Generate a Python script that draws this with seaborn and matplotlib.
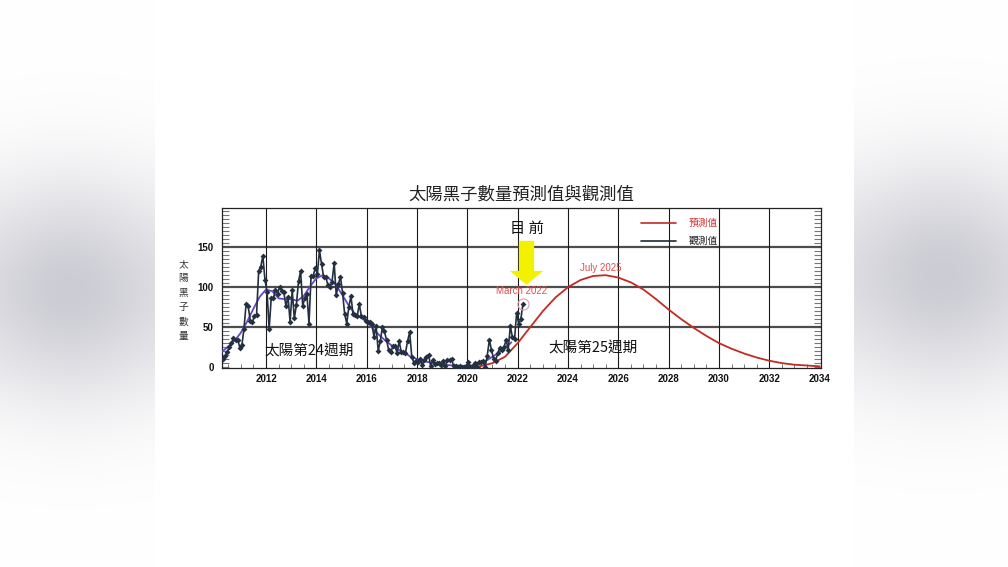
import matplotlib.pyplot as plt
import numpy as np
import seaborn as sns
from matplotlib.lines import Line2D
from matplotlib.ticker import MultipleLocator

# monthly observed sunspot number, Apr 2010 .. Mar 2022
obs_ssn = [10.4, 13.9, 18.8, 25.2, 29.6, 36.4, 33.6, 34.4, 24.5,
           27.3, 48.3, 78.6, 76.1, 58.2, 56.1, 64.5, 65.8, 120.1, 125.7, 139.1, 109.3,
           94.4, 47.6, 86.6, 85.9, 96.5, 92.0, 100.1, 94.8, 93.7, 76.5, 87.6, 56.8,
           96.1, 60.9, 78.3, 107.3, 120.2, 76.7, 86.2, 91.8, 54.5, 114.4, 113.9, 124.2,
           117.0, 146.1, 128.7, 112.5, 112.5, 102.9, 100.2, 106.9, 130.0, 90.0, 103.6, 112.9,
           93.0, 66.7, 54.5, 75.3, 88.8, 66.5, 65.8, 64.4, 78.6, 63.6, 62.2, 58.0,
           57.0, 56.4, 54.1, 37.9, 51.5, 20.5, 32.4, 50.2, 44.6, 33.4, 21.4, 18.5,
           26.1, 26.4, 17.7, 32.3, 18.9, 19.2, 17.8, 32.6, 43.7, 13.2, 5.7, 8.2,
           6.8, 10.7, 2.5, 8.9, 13.1, 15.6, 1.6, 8.7, 3.3, 4.9, 4.9, 3.1,
           7.7, 0.8, 9.4, 9.1, 9.9, 1.2, 0.9, 0.5, 1.1, 0.4, 0.5, 1.5,
           6.2, 0.2, 1.5, 5.2, 0.2, 5.8, 6.1, 7.5, 0.6, 14.4, 34.0, 21.8,
           10.4, 8.2, 17.2, 24.5, 21.2, 25.0, 34.0, 22.0, 51.3, 37.4, 34.8, 67.5,
           54.0, 59.7, 78.5]
obs_years = 2010 + (3 + np.arange(len(obs_ssn)) + 0.5) / 12

# smoothed observed curve (purple)
smooth_years = [2010.25, 2010.5, 2010.75, 2011.0, 2011.25, 2011.5, 2011.75, 2012.0,
                2012.25, 2012.5, 2012.75, 2013.0, 2013.25, 2013.5, 2013.75, 2014.0,
                2014.25, 2014.5, 2014.75, 2015.0, 2015.25, 2015.5, 2015.75, 2016.0,
                2016.25, 2016.5, 2016.75, 2017.0, 2017.25, 2017.5, 2017.75, 2018.0,
                2018.25, 2018.5, 2018.75, 2019.0, 2019.25, 2019.5, 2019.75, 2020.0,
                2020.25, 2020.5, 2020.75, 2021.0, 2021.25, 2021.5, 2021.75]
smooth_ssn = [19, 26, 33, 43, 57, 73, 88, 97,
              95, 86, 85, 85, 83, 89, 101, 111,
              115, 111, 104, 92, 79, 68, 62, 57,
              48, 40, 33, 27, 22, 18, 13, 10,
              7.5, 6, 4.5, 3.5, 2.5, 2, 1.5, 1.5,
              2.5, 5, 8, 13, 18, 24, 31]

# predicted cycle 25 (red)
pred_years = [2020.0, 2020.5, 2021.0, 2021.5, 2022.0, 2022.5, 2023.0, 2023.5, 2024.0,
              2024.5, 2025.0, 2025.5, 2026.0, 2026.5, 2027.0, 2027.5, 2028.0, 2028.5,
              2029.0, 2029.5, 2030.0, 2030.5, 2031.0, 2031.5, 2032.0, 2032.5, 2033.0,
              2033.5, 2034.0]
pred_ssn = [0, 1, 5, 13, 30, 50, 70, 87, 100,
            109, 114, 115, 112, 106, 97, 85, 72, 60,
            49, 39, 30, 23, 17, 12, 8, 5, 3,
            2, 1]

year_ticks = list(range(2012, 2035, 2))
ssn_ticks = [0, 50, 100, 150]

sns.set_theme(style="white")
plt.rcParams['font.family'] = ['Noto Sans CJK TC', 'DejaVu Sans']

fig = plt.figure(figsize=(10.08, 5.67), dpi=100)

# blurred grey side bands around the white panel
yy, xx = np.mgrid[0:567, 0:1008]
dark = np.zeros((567, 1008))
left = xx < 155
right = xx > 853
dark[left] = (0.20 * np.exp(-((yy[left] - 290) / 110.0) ** 2)
              * (0.55 + 0.45 * np.exp(-((xx[left] - 70) / 80.0) ** 2)))
dark[right] = (0.20 * np.exp(-((yy[right] - 275) / 110.0) ** 2)
               * (0.55 + 0.45 * np.exp(-((xx[right] - 940) / 80.0) ** 2)))
bg_img = np.dstack([1 - dark, 1 - dark, 1 - 0.85 * dark])
bg = fig.add_axes([0, 0, 1, 1], zorder=-1)
bg.imshow(bg_img, aspect='auto')
bg.axis('off')

ax = fig.add_axes([0.2202, 0.3504, 0.5942, 0.2827])

sns.lineplot(x=pred_years, y=pred_ssn, ax=ax, color='#c42a22', lw=1.3, zorder=3)
sns.lineplot(x=smooth_years, y=smooth_ssn, ax=ax, color='#6844cc', lw=1.3, zorder=4)
sns.lineplot(x=obs_years, y=obs_ssn, ax=ax, color='#223040', lw=1.2,
             marker='D', markersize=3, markeredgewidth=0, zorder=5)
ax.plot(obs_years[-1], obs_ssn[-1], marker='o', ms=8, mfc='none',
        mec='#e59aa6', mew=0.8, zorder=6)

ax.set_xlim(2010.25, 2034.05)
ax.set_ylim(-1.5, 199)
ax.set_xticks(year_ticks)
ax.set_yticks(ssn_ticks)
ax.xaxis.set_minor_locator(MultipleLocator(0.5))
ax.yaxis.set_minor_locator(MultipleLocator(5))
ax.tick_params(axis='y', which='both', direction='in', left=True, right=True,
               length=5, width=0.8, color='#777777', pad=6)
ax.tick_params(axis='x', which='major', direction='in', bottom=True, length=0, pad=4)
ax.tick_params(axis='x', which='minor', direction='in', bottom=True, length=3,
               width=0.7, color='#777777')
for lab in ax.get_xticklabels() + ax.get_yticklabels():
    lab.set_fontfamily('Liberation Sans')
    lab.set_fontweight('bold')
    lab.set_fontsize(7)
    lab.set_color('#111111')
ax.set_xlabel('')
ax.set_ylabel('')

for v in ssn_ticks[1:]:
    ax.axhline(v, color='#4d4d4d', lw=1.6, zorder=1)
for yr in year_ticks[:-1]:
    ax.axvline(yr, color='#1a1a1a', lw=0.8, zorder=1)
for s in ax.spines.values():
    s.set_color('#222222')
    s.set_linewidth(0.9)

ax.text(2013.7, 20, '太陽第24週期', fontsize=10.5, ha='center', va='center', color='#111111')
ax.text(2025.0, 23, '太陽第25週期', fontsize=10.5, ha='center', va='center', color='#111111')
ax.text(2022.35, 174, '目 前', fontsize=11, ha='center', va='center', color='#111111')
ax.annotate('', xy=(2022.35, 103), xytext=(2022.35, 158),
            arrowprops=dict(arrowstyle='simple,head_width=2.4,head_length=1.0,tail_width=1.1',
                            fc='#f2f200', ec='none', shrinkA=0, shrinkB=0,
                            mutation_scale=10), zorder=7)
ax.text(2022.15, 95, 'March 2022', fontsize=7, ha='center', va='center',
        color='#e0504a', family='Liberation Sans')
ax.text(2025.3, 124, 'July 2025', fontsize=7, ha='center', va='center',
        color='#e0504a', family='Liberation Sans')

handles = [Line2D([], [], color='#c42a22', lw=1.2), Line2D([], [], color='#1e2a38', lw=1.2)]
leg = ax.legend(handles, ['預測值', '觀測值'], loc='upper left', bbox_to_anchor=(0.70, 0.935),
                frameon=False, fontsize=7, handlelength=3.6, handletextpad=1.3,
                labelspacing=0.8, borderpad=0, borderaxespad=0)
leg.get_texts()[0].set_color('#d83030')
leg.get_texts()[1].set_color('#222222')

fig.text(521.5 / 1008, 1 - 195 / 567, '太陽黑子數量預測值與觀測值', fontsize=12.5,
         ha='center', va='center', color='#222222')
fig.text(183 / 1008, 1 - 300 / 567, '\n'.join('太陽黑子數量'), fontsize=7,
         ha='center', va='center', linespacing=1.55, color='#333333')

fig.savefig('out.png', dpi=100)
